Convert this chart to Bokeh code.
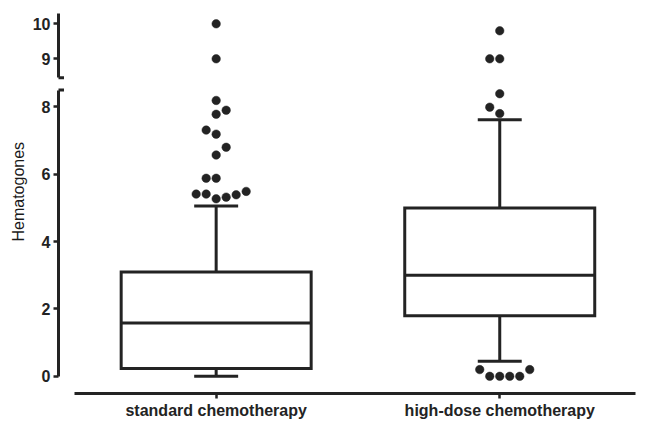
from bokeh.plotting import figure
from bokeh.layouts import column
from bokeh.models import ColumnDataSource, FixedTicker, Range1d, Title
from bokeh.embed import file_html
from bokeh.resources import INLINE

# ---------------- data ----------------
categories = ["standard chemotherapy", "high-dose chemotherapy"]
cat_pos = [1, 2]
whisker_low = [0.0, 0.45]
q1 = [0.23, 1.80]
median = [1.58, 3.00]
q3 = [3.10, 5.00]
whisker_high = [5.06, 7.62]

# outliers: value and swarm slot (dot widths, horizontal jitter)
std_out_vals = [10.0, 9.0, 8.19, 7.90, 7.78, 7.31, 7.19, 6.80, 6.57, 5.88, 5.88,
                5.41, 5.41, 5.27, 5.32, 5.39, 5.49]
std_out_slot = [0, 0, 0, 1, 0, -1, 0, 1, 0, -1, 0, -2, -1, 0, 1, 2, 3]
hd_out_vals = [9.8, 9.0, 9.0, 8.39, 7.99, 7.80, 0.2, 0.0, 0.0, 0.0, 0.0, 0.2]
hd_out_slot = [0, -1, 0, 0, -1, 0, -2, -1, 0, 1, 2, 3]

lower_ticks = [0, 2, 4, 6, 8]
upper_ticks = [9, 10]
axis_break_low = 8.5      # top of lower axis segment
axis_break_high = 8.46    # bottom of upper axis segment
upper_axis_top = 10.3

# ---------------- styling ----------------
INK = "#232323"
LW = 3
FONT = "Liberation Sans"
X_START, X_END = 0.444, 2.514
BOX_W = 0.67
CAP_W = 0.155
SLOT = 10.0 / 283.6  # one swarm step in data units

def outlier_source(vals, slots, pos, keep):
    xs, ys = [], []
    for v, s in zip(vals, slots):
        if keep(v):
            xs.append(pos + s * SLOT)
            ys.append(v)
    return ColumnDataSource(dict(x=xs, y=ys))

def style_yaxis(p, ticks, bounds):
    ax = p.yaxis[0]
    ax.ticker = FixedTicker(ticks=ticks)
    ax.bounds = bounds
    ax.axis_line_width = LW
    ax.axis_line_color = INK
    ax.major_tick_line_width = 2.5
    ax.major_tick_line_color = INK
    ax.major_tick_out = 5
    ax.major_tick_in = 0
    ax.minor_tick_line_color = None
    ax.major_label_text_font = FONT
    ax.major_label_text_font_style = "bold"
    ax.major_label_text_font_size = "16px"
    ax.major_label_text_color = INK
    ax.major_label_standoff = 3

# ---------------- upper figure (broken axis top) ----------------
up = figure(width=645, height=82, output_backend="svg", toolbar_location=None,
            x_range=Range1d(X_START, X_END), y_range=Range1d(8.323, 10.437),
            x_axis_location=None, min_border_left=58, min_border_right=0,
            min_border_top=8, min_border_bottom=0)
up.outline_line_color = None
up.grid.visible = False
style_yaxis(up, upper_ticks, (axis_break_high, upper_axis_top))

# ---------------- lower figure ----------------
lo = figure(width=645, height=339, output_backend="svg", toolbar_location=None,
            x_range=up.x_range, y_range=Range1d(-0.51, 8.664),
            min_border_left=58, min_border_right=0,
            min_border_top=2, min_border_bottom=26)
lo.outline_line_color = None
lo.grid.visible = False
style_yaxis(lo, lower_ticks, (0, axis_break_low))

xa = lo.xaxis[0]
xa.ticker = FixedTicker(ticks=cat_pos)
xa.major_label_overrides = {p: c for p, c in zip(cat_pos, categories)}
xa.bounds = (0.5, 2.48)
xa.axis_line_width = LW
xa.axis_line_color = INK
xa.major_tick_line_width = 2.5
xa.major_tick_line_color = INK
xa.major_tick_out = 5
xa.major_tick_in = 0
xa.minor_tick_line_color = None
xa.major_label_text_font = FONT
xa.major_label_text_font_style = "bold"
xa.major_label_text_font_size = "16px"
xa.major_label_text_color = INK
xa.major_label_standoff = 3

# boxes
box_src = ColumnDataSource(dict(x=cat_pos, q1=q1, q3=q3, med=median,
                                lo=whisker_low, hi=whisker_high,
                                bl=[c - BOX_W / 2 for c in cat_pos],
                                br=[c + BOX_W / 2 for c in cat_pos],
                                cl=[c - CAP_W / 2 for c in cat_pos],
                                cr=[c + CAP_W / 2 for c in cat_pos]))
lo.segment(x0="x", y0="q3", x1="x", y1="hi", source=box_src, line_color=INK, line_width=LW)
lo.segment(x0="x", y0="lo", x1="x", y1="q1", source=box_src, line_color=INK, line_width=LW)
lo.segment(x0="cl", y0="hi", x1="cr", y1="hi", source=box_src, line_color=INK, line_width=LW)
lo.segment(x0="cl", y0="lo", x1="cr", y1="lo", source=box_src, line_color=INK, line_width=LW)
lo.vbar(x="x", width=BOX_W, bottom="q1", top="q3", source=box_src,
        fill_color="white", line_color=INK, line_width=LW, line_join="miter")
lo.segment(x0="bl", y0="med", x1="br", y1="med", source=box_src, line_color=INK, line_width=LW)

# outliers
for vals, slots, pos in [(std_out_vals, std_out_slot, cat_pos[0]),
                         (hd_out_vals, hd_out_slot, cat_pos[1])]:
    lo.scatter("x", "y", source=outlier_source(vals, slots, pos, lambda v: v <= axis_break_low),
               size=8.5, fill_color=INK, line_color=INK, line_width=0.5)
    up.scatter("x", "y", source=outlier_source(vals, slots, pos, lambda v: v > axis_break_low),
               size=8.5, fill_color=INK, line_color=INK, line_width=0.5)

# axis break caps
lo.scatter([X_START], [axis_break_low], marker="dash", size=11, line_color=INK, line_width=3)
up.scatter([X_START], [axis_break_high], marker="dash", size=11, line_color=INK, line_width=3)

# y axis title (placed as a left title so it can be centred on the whole broken axis)
ytitle = Title(text="Hematogones", align="left", offset=152, vertical_align="top",
               text_font=FONT, text_font_size="16px", text_font_style="normal",
               text_color="#1a1a1a", standoff=19)
lo.add_layout(ytitle, "left")

layout = column(up, lo, spacing=0)
open("out.html", "w").write(file_html(layout, INLINE))
